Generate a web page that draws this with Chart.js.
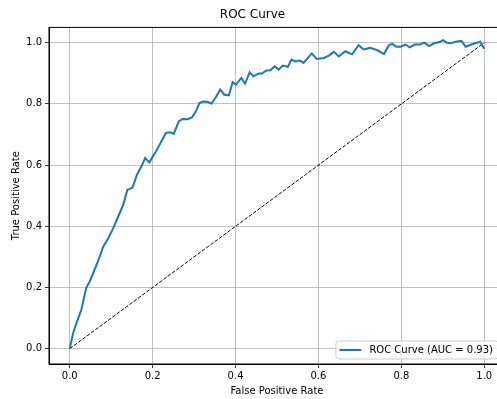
<!DOCTYPE html>
<html>
<head>
<meta charset="utf-8">
<script src="https://cdn.jsdelivr.net/npm/chart.js@4/dist/chart.umd.min.js"></script>
<style>
  html, body { margin: 0; padding: 0; background: #fff; overflow: hidden; }
  #wrap { width: 497px; height: 399px; overflow: hidden; }
</style>
</head>
<body>
<div id="wrap"><canvas id="roc" width="506" height="399"></canvas></div>
<script>
// ROC curve
const fpr = [0, 0.008, 0.016, 0.028, 0.04, 0.048, 0.06, 0.071, 0.081, 0.093, 0.105, 0.117, 0.129, 0.139, 0.149, 0.152,
  0.162, 0.173, 0.182, 0.192, 0.206, 0.218, 0.232, 0.242, 0.251, 0.263, 0.272, 0.284, 0.295, 0.304, 0.313, 0.322,
  0.332, 0.342, 0.353, 0.363, 0.373, 0.384, 0.393, 0.401, 0.414, 0.423, 0.434, 0.443, 0.456, 0.464, 0.474, 0.484,
  0.494, 0.504, 0.514, 0.526, 0.535, 0.544, 0.555, 0.564, 0.584, 0.596, 0.613, 0.625, 0.637, 0.649, 0.665, 0.681,
  0.697, 0.709, 0.725, 0.741, 0.758, 0.770, 0.778, 0.788, 0.798, 0.81, 0.82, 0.832, 0.845, 0.855, 0.867, 0.879,
  0.894, 0.9, 0.91, 0.919, 0.931, 0.945, 0.955, 0.969, 0.982, 0.99, 1.0];
const tpr = [0, 0.05, 0.083, 0.127, 0.2, 0.219, 0.258, 0.296, 0.334, 0.361, 0.394, 0.432, 0.47, 0.519, 0.525, 0.528,
  0.568, 0.596, 0.623, 0.609, 0.64, 0.67, 0.705, 0.707, 0.702, 0.743, 0.751, 0.75, 0.756, 0.775, 0.803, 0.808,
  0.807, 0.801, 0.823, 0.847, 0.83, 0.828, 0.871, 0.863, 0.885, 0.866, 0.903, 0.89, 0.899, 0.899, 0.909, 0.91,
  0.923, 0.912, 0.925, 0.921, 0.945, 0.939, 0.942, 0.934, 0.965, 0.947, 0.95, 0.958, 0.970, 0.955, 0.972, 0.962,
  0.992, 0.978, 0.983, 0.976, 0.963, 0.992, 0.996, 0.987, 0.987, 0.994, 0.985, 0.994, 0.994, 1.0, 0.989, 0.998,
  1.003, 1.008, 1.0, 0.998, 1.003, 1.006, 0.987, 0.994, 1.0, 1.003, 0.98];
const chanceX = [0, 1];
const chanceY = [0, 1];
const xTicks = [0, 0.2, 0.4, 0.6, 0.8, 1.0];
const yTicks = [0, 0.2, 0.4, 0.6, 0.8, 1.0];
const rocLabel = 'ROC Curve (AUC = 0.93)';

const FONT = 'DejaVu Sans';
const toPts = (xs, ys) => xs.map((x, i) => ({ x, y: ys[i] }));

// top/right frame like matplotlib spines
const framePlugin = {
  id: 'frame',
  afterDraw(chart) {
    const { ctx, chartArea: a } = chart;
    ctx.save();
    ctx.strokeStyle = '#000';
    ctx.lineWidth = 1;
    ctx.strokeRect(a.left, a.top, a.right - a.left, a.bottom - a.top);
    ctx.restore();
  }
};

// legend box in lower right of the axes
const legendPlugin = {
  id: 'insideLegend',
  afterDraw(chart) {
    const { ctx, chartArea: a } = chart;
    const ds = chart.data.datasets[0];
    ctx.save();
    ctx.font = '10px "' + FONT + '"';
    const tw = ctx.measureText(ds.label).width;
    const w = 3.5 + 22 + 8 + tw + 5;
    const h = 18;
    const right = a.right - 7;
    const bottom = a.bottom - 5;
    const left = right - w, top = bottom - h;
    ctx.beginPath();
    ctx.roundRect(left, top, w, h, 3);
    ctx.fillStyle = 'rgba(255,255,255,0.8)';
    ctx.fill();
    ctx.strokeStyle = '#cccccc';
    ctx.lineWidth = 1;
    ctx.stroke();
    const cy = top + h / 2;
    ctx.beginPath();
    ctx.moveTo(left + 3.5, cy);
    ctx.lineTo(left + 25.5, cy);
    ctx.strokeStyle = ds.borderColor;
    ctx.lineWidth = 2;
    ctx.stroke();
    ctx.fillStyle = '#000';
    ctx.textBaseline = 'middle';
    ctx.fillText(ds.label, left + 33.5, cy + 0.5);
    ctx.restore();
  }
};

new Chart(document.getElementById('roc').getContext('2d'), {
  type: 'scatter',
  data: {
    datasets: [
      {
        label: rocLabel,
        data: toPts(fpr, tpr),
        showLine: true,
        borderColor: '#1f77b4',
        borderWidth: 2,
        pointRadius: 0,
        tension: 0
      },
      {
        label: 'chance',
        data: toPts(chanceX, chanceY),
        showLine: true,
        borderColor: '#000',
        borderWidth: 1,
        borderDash: [3.7, 1.6],
        pointRadius: 0
      }
    ]
  },
  options: {
    responsive: false,
    animation: false,
    devicePixelRatio: 1,
    layout: { padding: { left: 0, right: 1, top: 0, bottom: 0 } },
    plugins: {
      legend: { display: false },
      tooltip: { enabled: false },
      title: {
        display: true,
        text: 'ROC Curve',
        color: '#000',
        font: { family: FONT, size: 12, weight: 'normal' },
        padding: { top: 8, bottom: 5 }
      }
    },
    scales: {
      x: {
        type: 'linear',
        min: -0.05,
        max: 1.05,
        afterBuildTicks: s => { s.ticks = xTicks.map(v => ({ value: v })); },
        afterFit: s => { s.height = 35; },
        ticks: {
          color: '#000',
          padding: 2,
          maxRotation: 0,
          font: { family: FONT, size: 10 },
          callback: v => v.toFixed(1)
        },
        grid: { color: '#b0b0b0', lineWidth: 0.8, tickColor: '#000', tickLength: 4 },
        border: { color: '#000', width: 1 },
        title: {
          display: true,
          text: 'False Positive Rate',
          color: '#000',
          font: { family: FONT, size: 10 },
          padding: { top: 0, bottom: 2 }
        }
      },
      y: {
        type: 'linear',
        min: -0.05,
        max: 1.05,
        afterBuildTicks: s => { s.ticks = yTicks.map(v => ({ value: v })); },
        afterFit: s => { s.width = 49; },
        ticks: {
          color: '#000',
          padding: 3,
          font: { family: FONT, size: 10 },
          callback: v => v.toFixed(1)
        },
        grid: { color: '#b0b0b0', lineWidth: 0.8, tickColor: '#000', tickLength: 4 },
        border: { color: '#000', width: 1 },
        title: {
          display: true,
          text: 'True Positive Rate',
          color: '#000',
          font: { family: FONT, size: 10 },
          padding: { top: 10, bottom: 0 }
        }
      }
    }
  },
  plugins: [framePlugin, legendPlugin]
});
</script>
</body>
</html>
